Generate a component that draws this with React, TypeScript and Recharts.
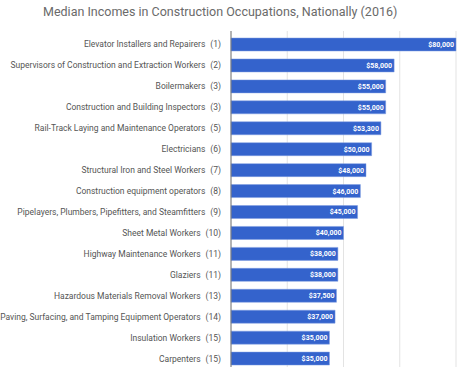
import React from "react";
import { BarChart, Bar, XAxis, YAxis, CartesianGrid, LabelList } from "recharts";

const occupations = [
  "Elevator Installers and Repairers",
  "Supervisors of Construction and Extraction Workers",
  "Boilermakers",
  "Construction and Building Inspectors",
  "Rail-Track Laying and Maintenance Operators",
  "Electricians",
  "Structural Iron and Steel Workers",
  "Construction equipment operators",
  "Pipelayers, Plumbers, Pipefitters, and Steamfitters",
  "Sheet Metal Workers",
  "Highway Maintenance Workers",
  "Glaziers",
  "Hazardous Materials Removal Workers",
  "Paving, Surfacing, and Tamping Equipment Operators",
  "Insulation Workers",
  "Carpenters",
];
const ranks = [1, 2, 3, 3, 5, 6, 7, 8, 9, 10, 11, 11, 13, 14, 15, 15];
const incomes = [80000, 58000, 55000, 55000, 53300, 50000, 48000, 46000, 45000, 40000, 38000, 38000, 37500, 37000, 35000, 35000];
const xTicks = [0, 20000, 40000, 60000, 80000];

const data = occupations.map((name, i) => ({ name, rank: ranks[i], income: incomes[i] }));

const FONT = "Roboto, Arial, sans-serif";

const YTick = (props: any) => {
  const { x, y, payload, index } = props;
  const rank = ranks[index];
  return (
    <text x={x} y={y} dy={3} textAnchor="end" fontFamily={FONT} fontSize={8.5} fill="#555">
      <tspan>{payload.value}</tspan>
      <tspan dx={5}>{`(${rank})`}</tspan>
    </text>
  );
};

const fmt = (v: any) => "$" + Number(v).toLocaleString("en-US");

export default function App() {
  return (
    <div style={{ position: "absolute", left: 0, top: 0, width: 476, height: 367, background: "#fff", overflow: "hidden" }}>
      <div style={{ position: "absolute", left: 43, top: 4, fontFamily: FONT, fontSize: 12.5, color: "#6a6a6a", whiteSpace: "nowrap" }}>
        Median Incomes in Construction Occupations, Nationally (2016)
      </div>
      <BarChart
        width={476}
        height={370}
        data={data}
        layout="vertical"
        margin={{ top: 31, right: 20, bottom: 1, left: 0 }}
        barCategoryGap={8}
      >
        <CartesianGrid horizontal={false} stroke="#e3e3e3" />
        <XAxis type="number" domain={[0, 80000]} ticks={xTicks} hide />
        <YAxis
          type="category"
          dataKey="name"
          width={231}
          tick={<YTick />}
          tickLine={false}
          axisLine={{ stroke: "#777" }}
          tickMargin={4}
          interval={0}
          padding={{ top: 3, bottom: 0 }}
        />
        <Bar dataKey="income" fill="#3463cc" stroke="#7f9de0" strokeWidth={0.5} barSize={13} isAnimationActive={false}>
          <LabelList
            dataKey="income"
            position="insideRight"
            offset={2}
            formatter={fmt}
            fill="#fff"
            fontSize={7}
            fontWeight="bold"
            fontFamily={FONT}
          />
        </Bar>
      </BarChart>
    </div>
  );
}
